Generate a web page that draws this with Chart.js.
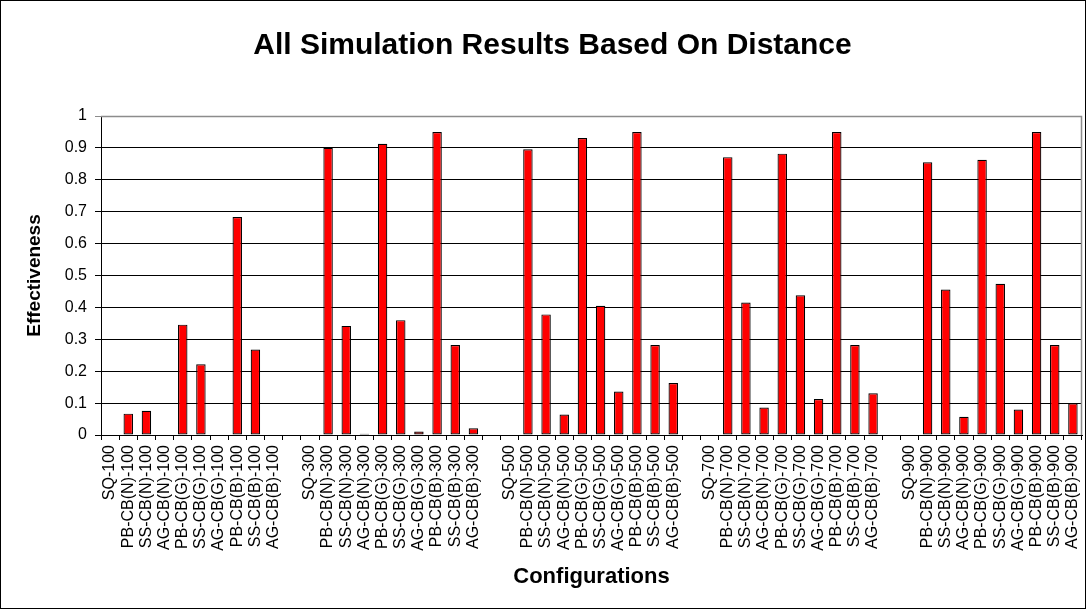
<!DOCTYPE html>
<html>
<head>
<meta charset="utf-8">
<script src="https://cdn.jsdelivr.net/npm/chart.js@4/dist/chart.umd.min.js"></script>
<style>
  html, body { margin: 0; padding: 0; background: #fff; }
  #wrap { width: 1086px; height: 609px; box-sizing: border-box; border: 1px solid #000; background: #fff; }
  canvas { display: block; }
</style>
</head>
<body>
<div id="wrap"><canvas id="c" width="1084" height="607"></canvas></div>
<script>
// ---- data ----
const configs = ['SQ', 'PB-CB(N)', 'SS-CB(N)', 'AG-CB(N)', 'PB-CB(G)', 'SS-CB(G)', 'AG-CB(G)', 'PB-CB(B)', 'SS-CB(B)', 'AG-CB(B)'];
const distances = [100, 300, 500, 700, 900];
const values100 = [0, 0.067, 0.076, 0, 0.346, 0.222, 0, 0.683, 0.268, 0];
const values300 = [0, 0.900, 0.342, 0.004, 0.913, 0.360, 0.011, 0.950, 0.282, 0.021];
const values500 = [0, 0.896, 0.378, 0.064, 0.931, 0.405, 0.136, 0.950, 0.282, 0.163];
const values700 = [0, 0.871, 0.415, 0.086, 0.882, 0.438, 0.113, 0.950, 0.282, 0.131];
const values900 = [0, 0.855, 0.456, 0.057, 0.863, 0.474, 0.080, 0.950, 0.282, 0.099];
const yTicks = [0, 0.1, 0.2, 0.3, 0.4, 0.5, 0.6, 0.7, 0.8, 0.9, 1];

const groups = [values100, values300, values500, values700, values900];
const labels = [];
const data = [];
groups.forEach((vals, gi) => {
  if (gi > 0) { labels.push(''); data.push(null); }
  configs.forEach((c, i) => {
    labels.push(c + '-' + distances[gi]);
    data.push(vals[i]);
  });
});

const FONT = "'Liberation Sans', Arial, Helvetica, sans-serif";

const plotBorder = {
  id: 'plotBorder',
  beforeDatasetsDraw(chart) {
    const { ctx, chartArea: a } = chart;
    ctx.save();
    ctx.strokeStyle = '#8c8c8c';
    ctx.lineWidth = 1.5;
    ctx.beginPath();
    ctx.moveTo(a.left, a.top + 0.5);
    ctx.lineTo(a.right - 0.5, a.top + 0.5);
    ctx.lineTo(a.right - 0.5, a.bottom);
    ctx.stroke();
    ctx.restore();
  }
};

new Chart(document.getElementById('c'), {
  type: 'bar',
  data: {
    labels: labels,
    datasets: [{
      data: data,
      backgroundColor: '#ff0000',
      borderColor: '#000000',
      borderWidth: 1.2,
      borderSkipped: false,
      barPercentage: 0.52,
      categoryPercentage: 1.0
    }]
  },
  plugins: [plotBorder],
  options: {
    responsive: false,
    animation: false,
    layout: { padding: { left: 22, right: 3, top: 0, bottom: 0 } },
    plugins: {
      legend: { display: false },
      tooltip: { enabled: false },
      title: {
        display: true,
        text: 'All Simulation Results Based On Distance',
        color: '#000',
        font: { family: FONT, size: 30, weight: 'bold', lineHeight: 1.2 },
        padding: { top: 26.5, bottom: 52.5 }
      }
    },
    scales: {
      x: {
        offset: true,
        grid: { display: true, offset: true, drawOnChartArea: false, drawTicks: true, tickLength: 5, color: '#000', lineWidth: 1 },
        border: { display: true, color: '#000', width: 1 },
        ticks: {
          autoSkip: false,
          maxRotation: 90,
          minRotation: 90,
          padding: 5,
          color: '#000',
          font: { family: FONT, size: 16 }
        },
        title: {
          display: true,
          text: 'Configurations',
          color: '#000',
          font: { family: FONT, size: 22, weight: 'bold', lineHeight: 1.2 },
          padding: { top: 0, bottom: 17.8 }
        },
        afterFit(scale) {
          scale.height = 173;
          scale.paddingLeft = 0;
          scale.paddingRight = 0;
        }
      },
      y: {
        min: 0,
        max: 1,
        afterBuildTicks(scale) { scale.ticks = yTicks.map(v => ({ value: v })); },
        grid: {
          color: (c) => (c.tick && c.tick.value === 1 ? '#8c8c8c' : '#000'),
          lineWidth: 1,
          drawTicks: true,
          tickLength: 6
        },
        border: { display: true, color: '#000', width: 1 },
        ticks: {
          padding: 8,
          color: '#000',
          font: { family: FONT, size: 16 },
          callback: (v) => String(Math.round(v * 10) / 10)
        },
        title: {
          display: true,
          text: 'Effectiveness',
          color: '#000',
          font: { family: FONT, size: 19, weight: 'bold', lineHeight: 1.2 },
          padding: { top: 0.6, bottom: 0 }
        },
        afterFit(scale) { scale.width = 78; }
      }
    }
  }
});
</script>
</body>
</html>
